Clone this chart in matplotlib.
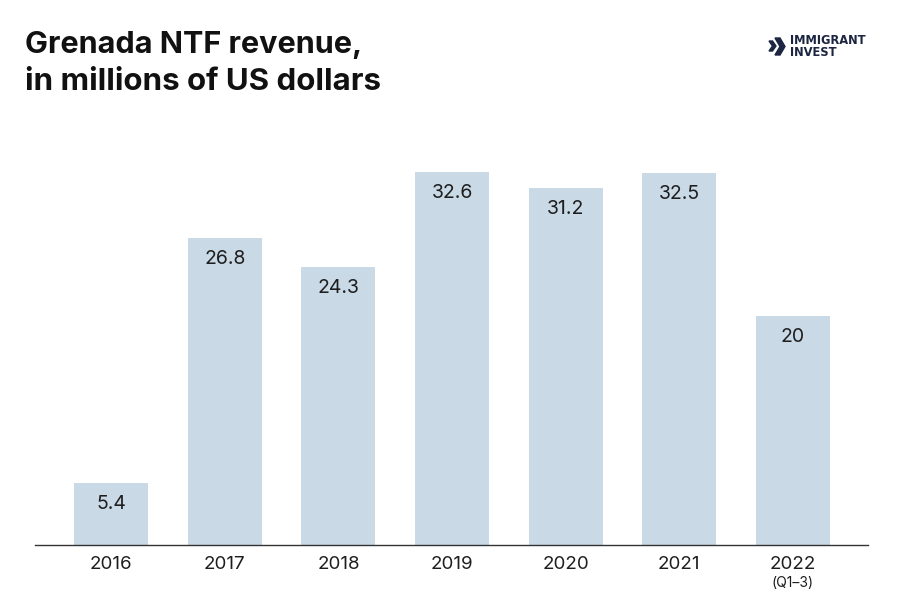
import matplotlib.pyplot as plt
from matplotlib.patches import Polygon

years = ['2016', '2017', '2018', '2019', '2020', '2021', '2022']
revenue = [5.4, 26.8, 24.3, 32.6, 31.2, 32.5, 20]
value_labels = ['5.4', '26.8', '24.3', '32.6', '31.2', '32.5', '20']
note_2022 = '(Q1–3)'

plt.rcParams['font.family'] = ['Inter', 'DejaVu Sans']

fig = plt.figure(figsize=(9, 6), dpi=100)
ax = fig.add_axes([35 / 900, 55 / 600, 833 / 900, 445 / 600])

x = list(range(len(years)))
bars = ax.bar(x, revenue, width=0.65, color='#c9d9e5', zorder=2)

for rect, lab in zip(bars, value_labels):
    ax.annotate(lab, (rect.get_x() + rect.get_width() / 2, rect.get_height()),
                xytext=(0, -15), textcoords='offset points',
                ha='center', va='center', fontsize=14, color='#1e1e1e')

ax.set_xlim(-0.67, 6.66)
ax.set_ylim(0, 38.9)
ax.set_xticks(x)
ax.set_xticklabels(years, fontsize=13.5, color='#1e1e1e')
ax.tick_params(axis='x', length=0, pad=8)
ax.set_yticks([])
for side in ['top', 'right', 'left']:
    ax.spines[side].set_visible(False)
ax.spines['bottom'].set_color('#333333')
ax.spines['bottom'].set_linewidth(1)

# small note under the last year
ax.text(6, -0.086, note_2022, transform=ax.get_xaxis_transform(),
        ha='center', va='center', fontsize=10, color='#1e1e1e')

# title
fig.text(25 / 900, 1 - 45 / 600, 'Grenada NTF revenue,', fontsize=22,
         fontweight='bold', color='#111111', va='center', ha='left')
fig.text(25 / 900, 1 - 82 / 600, 'in millions of US dollars', fontsize=22.5,
         fontweight='bold', color='#111111', va='center', ha='left')

# logo
navy = '#1c2541'
fig.text(790 / 900, 1 - 41 / 600, 'IMMIGRANT', fontsize=8.3, fontweight='bold',
         color=navy, va='center', ha='left', family='DejaVu Sans')
fig.text(790 / 900, 1 - 53 / 600, 'INVEST', fontsize=8.3, fontweight='bold',
         color=navy, va='center', ha='left', family='DejaVu Sans')


def chevron(x0, y0, w, h, t):
    pts = [(x0, y0 + h), (x0 + t, y0 + h), (x0 + w, y0 + h / 2),
           (x0 + t, y0), (x0, y0), (x0 + w - t, y0 + h / 2)]
    return [(px / 900, 1 - py / 600) for px, py in pts]


fig.patches.append(Polygon(chevron(769, 41, 7, 10, 3.5), closed=True,
                           color=navy, transform=fig.transFigure))
fig.patches.append(Polygon(chevron(775, 38, 10, 17, 5), closed=True,
                           color=navy, transform=fig.transFigure))

fig.savefig('out.png', dpi=100)
